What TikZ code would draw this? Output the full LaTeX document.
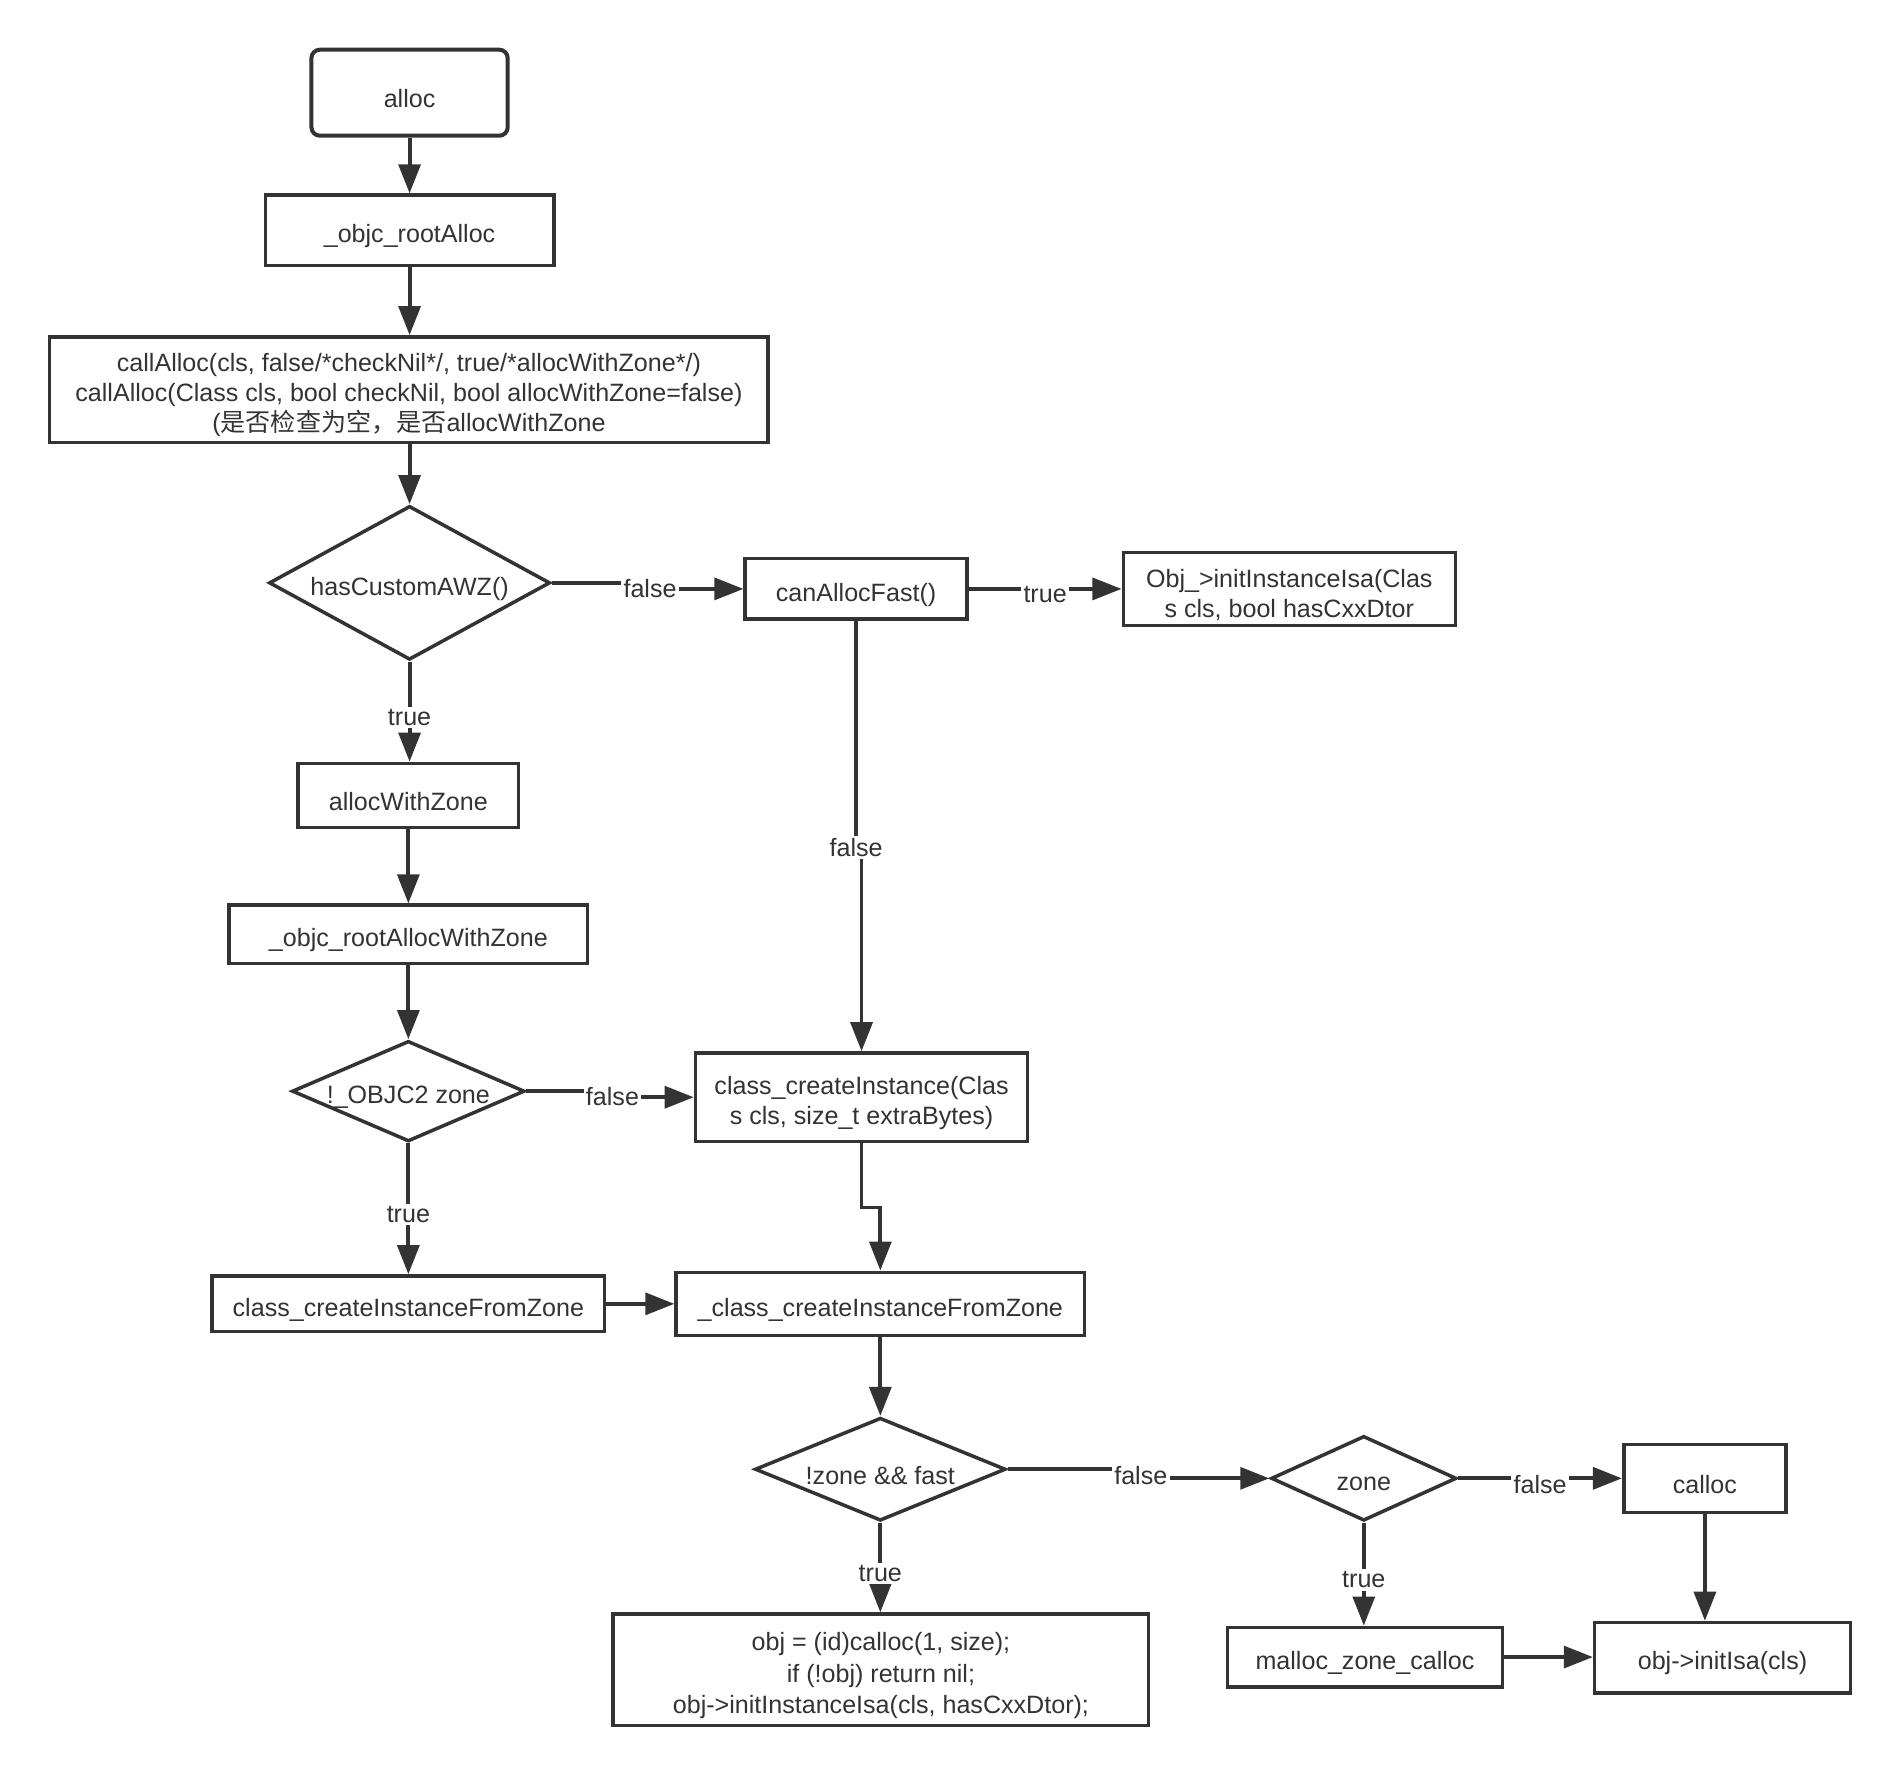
\documentclass[tikz,border=0pt]{standalone}
\usepackage{fontspec}
\setmainfont{Liberation Sans}
\newfontfamily\cjk{Noto Sans CJK SC}
\usetikzlibrary{shapes.geometric,arrows.meta}
\definecolor{ink}{HTML}{333333}
\begin{document}
\begin{tikzpicture}[x=0.5pt,y=-0.5pt,
  txt/.style={text=ink, font=\fontsize{10.35}{12.4}\selectfont},
  sz/.style 2 args={minimum width=#1*0.5pt, minimum height=#2*0.5pt},
  bt/.style={txt, inner sep=0pt, align=center, yshift=-2.4pt},
  tb/.style={label={[bt]center:{#1}}},
  box/.style={draw=ink, line width=1.45pt, rectangle, inner sep=0pt},
  dia/.style={draw=ink, line width=1.45pt, diamond, inner sep=0pt},
  arr/.style={draw=ink, line width=1.6pt, -{Triangle[length=12pt,width=9pt]}},
  elbl/.style={fill=white, inner sep=1pt, txt, yshift=-2.4pt}]
\useasboundingbox (0,0) rectangle (1568,1467);

\node[box, sz={162}{71}, rounded corners=3.5pt, line width=1.65pt, tb={alloc}] (alloc) at (338,76.5) {};
\node[box, sz={238}{58}, tb={\_objc\_rootAlloc}] (ra) at (338,190) {};
\node[box, sz={593}{87}, tb={callAlloc(cls, false/*checkNil*/, true/*allocWithZone*/)\\callAlloc(Class cls, bool checkNil, bool allocWithZone=false)\\({\cjk 是否检查为空，是否}allocWithZone}] (ca) at (337.5,321.5) {};
\node[dia, sz={232}{127}, tb={hasCustomAWZ()}] (hca) at (338,481) {};
\node[box, sz={183}{50}, tb={canAllocFast()}] (caf) at (706.5,486) {};
\node[box, sz={274}{60}, tb={Obj\_>initInstanceIsa(Clas\\s cls, bool hasCxxDtor}] (oii) at (1064,486) {};
\node[box, sz={182}{53}, tb={allocWithZone}] (aw) at (337,656.5) {};
\node[box, sz={296}{48}, tb={\_objc\_rootAllocWithZone}] (raw) at (337,771) {};
\node[dia, sz={192}{83}, tb={!\_OBJC2 zone}] (ob) at (337,900.5) {};
\node[box, sz={274}{73}, tb={class\_createInstance(Clas\\s cls, size\_t extraBytes)}] (cci) at (711,905.5) {};
\node[box, sz={324}{46}, tb={class\_createInstanceFromZone}] (cfz) at (337,1076) {};
\node[box, sz={337}{52}, tb={\_class\_createInstanceFromZone}] (ucfz) at (726.5,1076) {};
\node[dia, sz={207}{85}, tb={!zone \&\& fast}] (zf) at (726.5,1212.5) {};
\node[box, sz={442}{92}, label={[bt, font=\fontsize{10.35}{13}\selectfont]center:{obj = (id)calloc(1, size);\\if (!obj) return nil;\\obj{-}>initInstanceIsa(cls, hasCxxDtor);}}] (objb) at (727,1378) {};
\node[dia, sz={153}{70}, tb={zone}] (zd) at (1125.5,1220) {};
\node[box, sz={134}{56}, tb={calloc}] (cal) at (1407,1220) {};
\node[box, sz={227}{49}, tb={malloc\_zone\_calloc}] (mzc) at (1126.5,1367.5) {};
\node[box, sz={211}{58}, tb={obj{-}>initIsa(cls)}] (isa) at (1421.5,1368) {};

\draw[arr] (alloc.south) -- (ra.north);
\draw[arr] (ra.south) -- (ca.north -| ra.south);
\draw[arr] (ca.south -| hca.north) -- (hca.north);
\draw[arr] (hca.east) -- ++(81,0) node[elbl]{false} |- (caf.west);
\draw[arr] (caf.east) -- node[elbl]{true} (oii.west);
\draw[arr] (caf.south) -- ++(0,182) node[elbl]{false} -| (cci.north);
\draw[arr] (hca.south) -- node[elbl]{true} (aw.north -| hca.south);
\draw[arr] (aw.south) -- (raw.north);
\draw[arr] (raw.south) -- (ob.north);
\draw[arr] (ob.east) -- ++(71,0) node[elbl]{false} |- (cci.west);
\draw[arr] (ob.south) -- node[elbl]{true} (cfz.north);
\draw[arr] (cci.south) -- ++(0,53) -| (ucfz.north);
\draw[arr] (cfz.east) -- (ucfz.west);
\draw[arr] (ucfz.south) -- (zf.north);
\draw[arr] (zf.east) -- ++(110,0) node[elbl]{false} |- (zd.west);
\draw[arr] (zf.south) -- node[elbl]{true} (objb.north -| zf.south);
\draw[arr] (zd.east) -- node[elbl]{false} (cal.west);
\draw[arr] (zd.south) -- node[elbl]{true} (mzc.north -| zd.south);
\draw[arr] (cal.south) -- (cal.south |- isa.north);
\draw[arr] (mzc.east) -- (mzc.east -| isa.west);
\end{tikzpicture}
\end{document}
